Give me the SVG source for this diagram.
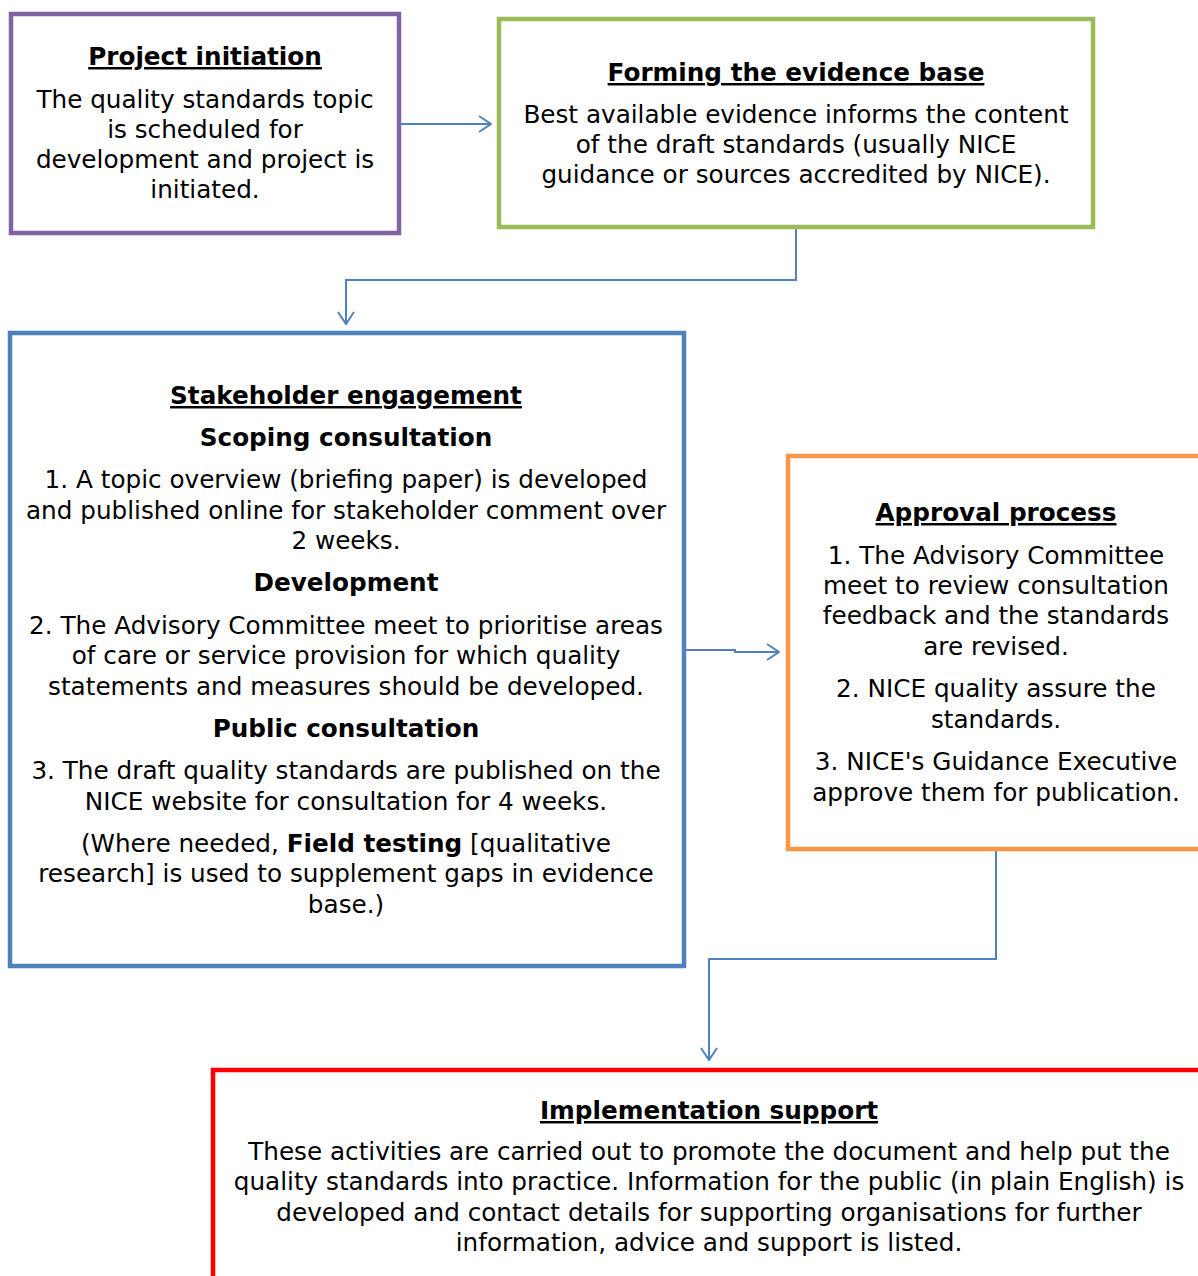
<svg xmlns="http://www.w3.org/2000/svg" width="1198" height="1276" viewBox="0 0 1198 1276">
<style>
text{font-family:"DejaVu Sans","Verdana",sans-serif;font-size:24.7px;fill:#000;text-anchor:middle}
.t{font-weight:bold;text-decoration:underline}
.b{font-weight:bold}
.box{fill:#fff;stroke-width:4.5}
.c{fill:none;stroke:#4F81BD;stroke-width:2}
</style>
<defs>
<marker id="ah" viewBox="0 0 14 18" refX="13" refY="9" markerWidth="14" markerHeight="18" markerUnits="userSpaceOnUse" orient="auto">
<path d="M1,1 L13,9 L1,17" fill="none" stroke="#4F81BD" stroke-width="2"/>
</marker>
</defs>
<rect width="1198" height="1276" fill="#fff"/>
<g id="connectors">
<path class="c" d="M401,124 H491" marker-end="url(#ah)"/>
<path class="c" d="M796,229 V280 H346 V324" marker-end="url(#ah)"/>
<path class="c" d="M686,650 H735 V652 H779" marker-end="url(#ah)"/>
<path class="c" d="M996,851 V959 H709 V1060" marker-end="url(#ah)"/>
</g>
<g id="project-initiation">
<rect class="box" x="11" y="14" width="388" height="219" stroke="#8064A2"/>
<text class="t" x="205" y="65">Project initiation</text>
<text x="205" y="108">The quality standards topic</text>
<text x="205" y="138">is scheduled for</text>
<text x="205" y="168">development and project is</text>
<text x="205" y="198">initiated.</text>
</g>
<g id="forming-evidence">
<rect class="box" x="499" y="19" width="594" height="208" stroke="#9BBB59"/>
<text class="t" x="796" y="81">Forming the evidence base</text>
<text x="796" y="123">Best available evidence informs the content</text>
<text x="796" y="153">of the draft standards (usually NICE</text>
<text x="796" y="183">guidance or sources accredited by NICE).</text>
</g>
<g id="stakeholder-engagement">
<rect class="box" x="10" y="333" width="674" height="633" stroke="#4F81BD"/>
<text class="t" x="346" y="404">Stakeholder engagement</text>
<text class="b" x="346" y="446">Scoping consultation</text>
<text x="346" y="488">1. A topic overview (briefing paper) is developed</text>
<text x="346" y="519">and published online for stakeholder comment over</text>
<text x="346" y="549">2 weeks.</text>
<text class="b" x="346" y="591">Development</text>
<text x="346" y="634">2. The Advisory Committee meet to prioritise areas</text>
<text x="346" y="664">of care or service provision for which quality</text>
<text x="346" y="695">statements and measures should be developed.</text>
<text class="b" x="346" y="737">Public consultation</text>
<text x="346" y="779">3. The draft quality standards are published on the</text>
<text x="346" y="810">NICE website for consultation for 4 weeks.</text>
<text x="346" y="852">(Where needed, <tspan font-weight="bold">Field testing</tspan> [qualitative</text>
<text x="346" y="882">research] is used to supplement gaps in evidence</text>
<text x="346" y="913">base.)</text>
</g>
<g id="approval-process">
<rect class="box" x="788" y="456" width="420" height="393" stroke="#F79646"/>
<text class="t" x="996" y="521">Approval process</text>
<text x="996" y="564">1. The Advisory Committee</text>
<text x="996" y="594">meet to review consultation</text>
<text x="996" y="624">feedback and the standards</text>
<text x="996" y="655">are revised.</text>
<text x="996" y="697">2. NICE quality assure the</text>
<text x="996" y="728">standards.</text>
<text x="996" y="770">3. NICE's Guidance Executive</text>
<text x="996" y="801">approve them for publication.</text>
</g>
<g id="implementation-support">
<rect class="box" x="213" y="1070" width="1000" height="220" stroke="#FF0000"/>
<text class="t" x="709" y="1119">Implementation support</text>
<text x="709" y="1160">These activities are carried out to promote the document and help put the</text>
<text x="709" y="1190">quality standards into practice. Information for the public (in plain English) is</text>
<text x="709" y="1221">developed and contact details for supporting organisations for further</text>
<text x="709" y="1251">information, advice and support is listed.</text>
</g>
</svg>
